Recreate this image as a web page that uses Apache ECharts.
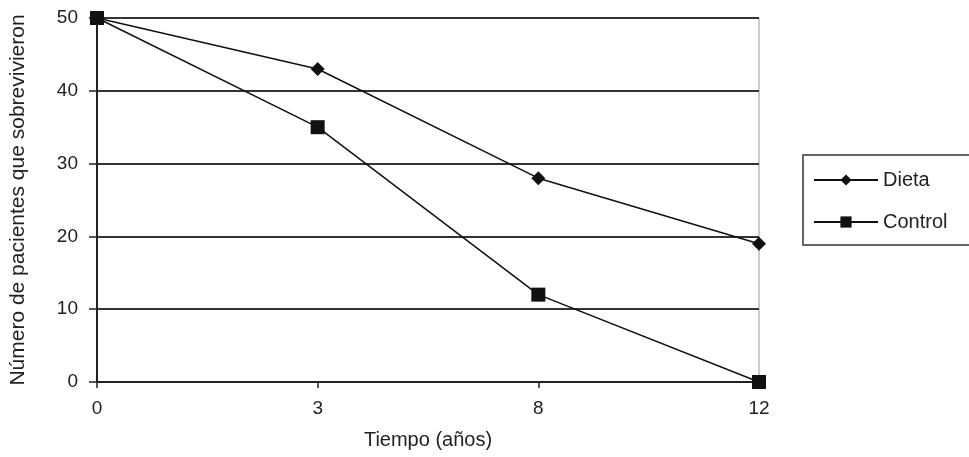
<!DOCTYPE html>
<html>
<head>
<meta charset="utf-8">
<script src="https://cdn.jsdelivr.net/npm/echarts@6/dist/echarts.min.js"></script>
<style>html,body{margin:0;padding:0;background:#fff}#c{width:969px;height:457px}</style>
</head>
<body>
<div id="c"></div>
<script>
const categories = ['0', '3', '8', '12'];
const dieta = [50, 43, 28, 19];
const control = [50, 35, 12, 0];
const yTicks = [0, 10, 20, 30, 40, 50];

const chart = echarts.init(document.getElementById('c'), null, {renderer: 'canvas'});
const font = 'Liberation Sans, Arial, sans-serif';
chart.setOption({
  animation: false,
  backgroundColor: '#fff',
  textStyle: {fontFamily: font},
  grid: {left: 97, right: 210, top: 18, bottom: 75, show: true, borderColor: '#999', borderWidth: 1, backgroundColor: 'transparent'},
  legend: {
    orient: 'vertical', left: 803, top: 155,
    itemWidth: 64, itemHeight: 14, itemGap: 22,
    padding: [15, 40, 13, 10],
    borderColor: '#333', borderWidth: 1.5,
    textStyle: {fontSize: 20, color: '#222', fontFamily: font},
    data: ['Dieta', 'Control']
  },
  xAxis: {
    type: 'category', data: categories, boundaryGap: false,
    name: 'Tiempo (años)', nameLocation: 'middle', nameGap: 48,
    nameTextStyle: {fontSize: 20, color: '#222'},
    axisLine: {lineStyle: {color: '#222', width: 2}},
    axisTick: {show: true, length: 6, lineStyle: {color: '#222', width: 1.5}},
    axisLabel: {fontSize: 19, color: '#222', margin: 17},
    splitLine: {show: false}
  },
  yAxis: {
    type: 'value', min: 0, max: 50, interval: 10,
    name: 'Número de pacientes que sobrevivieron', nameLocation: 'middle', nameGap: 68,
    nameTextStyle: {fontSize: 21, color: '#222'},
    axisLine: {show: true, lineStyle: {color: '#222', width: 2}},
    axisTick: {show: true, length: 8, lineStyle: {color: '#222', width: 1.5}},
    axisLabel: {fontSize: 19, color: '#222', margin: 19,
      formatter: v => yTicks.includes(v) ? String(v) : ''},
    splitLine: {show: true, lineStyle: {color: '#333', width: 2}}
  },
  series: [
    {name: 'Dieta', type: 'line', data: dieta, symbol: 'diamond', symbolSize: 14,
     lineStyle: {color: '#111', width: 1.5}, itemStyle: {color: '#111'}},
    {name: 'Control', type: 'line', data: control, symbol: 'rect', symbolSize: 14,
     lineStyle: {color: '#111', width: 1.5}, itemStyle: {color: '#111'}}
  ]
});
</script>
</body>
</html>
